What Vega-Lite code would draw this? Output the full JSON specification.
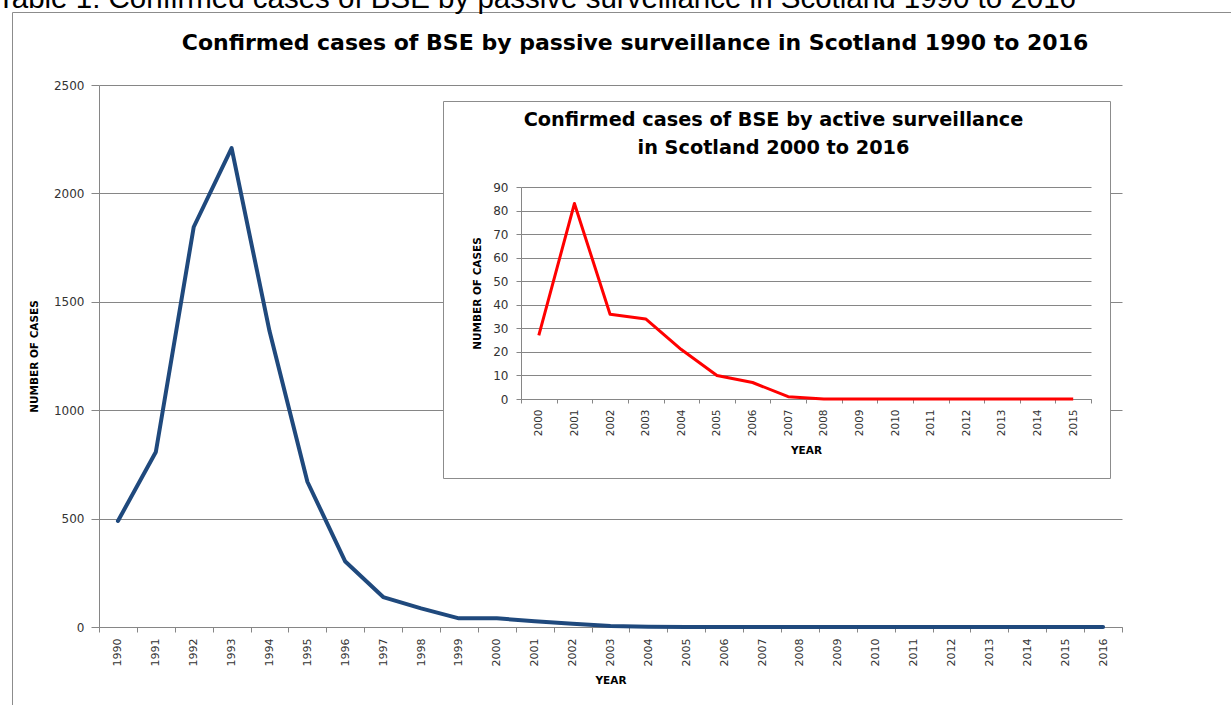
{
  "$schema": "https://vega.github.io/schema/vega-lite/v6.json",
  "background": "white",
  "autosize": {"type": "pad"},
  "padding": {"left": -3, "top": -16, "right": 0, "bottom": 0},
  "title": {
    "text": "Table 1: Confirmed cases of BSE by passive surveillance in Scotland 1990 to 2016",
    "anchor": "start",
    "font": "Liberation Sans",
    "fontSize": 29.5,
    "fontWeight": "normal",
    "color": "black",
    "dx": -15,
    "offset": -2.5
  },
  "bounds": "flush",
  "spacing": 0,
  "hconcat": [
    {
      "width": 344,
      "height": 526,
      "view": {"stroke": null},
      "title": {
        "text": "Confirmed cases of BSE by passive surveillance in Scotland 1990 to 2016",
        "frame": "group",
        "anchor": "middle",
        "dx": 364,
        "offset": -42.5,
        "font": "DejaVu Sans",
        "fontSize": 22,
        "fontWeight": "bold",
        "color": "black"
      },
      "data": {
        "values": [
          {"year": 1990, "cases": 489},
          {"year": 1991, "cases": 807},
          {"year": 1992, "cases": 1845},
          {"year": 1993, "cases": 2209},
          {"year": 1994, "cases": 1365},
          {"year": 1995, "cases": 670},
          {"year": 1996, "cases": 302},
          {"year": 1997, "cases": 138},
          {"year": 1998, "cases": 86},
          {"year": 1999, "cases": 40},
          {"year": 2000, "cases": 40},
          {"year": 2001, "cases": 27},
          {"year": 2002, "cases": 15},
          {"year": 2003, "cases": 5},
          {"year": 2004, "cases": 1},
          {"year": 2005, "cases": 0},
          {"year": 2006, "cases": 0},
          {"year": 2007, "cases": 0},
          {"year": 2008, "cases": 0},
          {"year": 2009, "cases": 0},
          {"year": 2010, "cases": 0},
          {"year": 2011, "cases": 0},
          {"year": 2012, "cases": 0},
          {"year": 2013, "cases": 0},
          {"year": 2014, "cases": 0},
          {"year": 2015, "cases": 0},
          {"year": 2016, "cases": 0}
        ]
      },
      "layer": [
        {
          "mark": {"type": "line", "color": "#1F497D", "strokeWidth": 4, "strokeJoin": "round", "strokeCap": "round"},
          "encoding": {
            "x": {
              "field": "year",
              "type": "ordinal",
              "scale": {"type": "band", "paddingInner": 0, "paddingOuter": 0, "range": [0, 1023]},
              "axis": {
                "orient": "bottom",
                "title": "YEAR",
                "labelAngle": 270,
                "labelAlign": "right",
                "labelBaseline": "middle",
                "tickBand": "extent",
                "tickSize": 5,
                "labelPadding": 6,
                "labelFontSize": 11,
                "titleFontSize": 10.5,
                "titleFontWeight": "bold",
                "titlePadding": 10,
                "grid": false
              }
            },
            "y": {
              "field": "cases",
              "type": "quantitative",
              "scale": {"domain": [0, 2500], "range": [526, -16], "nice": false, "zero": true},
              "axis": {
                "orient": "left",
                "title": "NUMBER OF CASES",
                "values": [0, 500, 1000, 1500, 2000, 2500],
                "format": "d",
                "grid": true,
                "tickSize": 8,
                "labelPadding": 7,
                "labelFontSize": 12,
                "labelOverlap": false,
                "labelFlush": false,
                "titleFontSize": 10.5,
                "titleFontWeight": "bold",
                "titlePadding": 14
              }
            }
          }
        },
        {
          "mark": {"type": "line", "strokeOpacity": 0},
          "encoding": {
            "x": {
              "field": "year",
              "type": "ordinal",
              "scale": {"type": "band", "paddingInner": 0, "paddingOuter": 0, "range": [-87, 1400]},
              "axis": {
                "orient": "top",
                "offset": 89,
                "title": null,
                "labels": false,
                "ticks": false,
                "grid": false,
                "domain": true,
                "domainColor": "#8C8C8C"
              }
            },
            "y": {
              "field": "cases",
              "type": "quantitative",
              "scale": {"domain": [0, 2500], "range": [700, -89], "nice": false, "zero": true},
              "axis": {
                "orient": "left",
                "offset": 87,
                "title": null,
                "labels": false,
                "ticks": false,
                "grid": false,
                "domain": true,
                "domainColor": "#8C8C8C"
              }
            }
          }
        }
      ],
      "resolve": {
        "scale": {"x": "independent", "y": "independent"},
        "axis": {"x": "independent", "y": "independent"}
      }
    },
    {
      "width": 667,
      "height": 377,
      "view": {"fill": "white", "stroke": "#8C8C8C", "strokeWidth": 1},
      "title": {
        "text": ["Confirmed cases of BSE by active surveillance", "in Scotland 2000 to 2016"],
        "frame": "group",
        "anchor": "middle",
        "dx": -3,
        "offset": -57,
        "lineHeight": 28,
        "font": "DejaVu Sans",
        "fontSize": 19.3,
        "fontWeight": "bold",
        "color": "black"
      },
      "data": {
        "values": [
          {"year": 2000, "cases": 27},
          {"year": 2001, "cases": 83},
          {"year": 2002, "cases": 36},
          {"year": 2003, "cases": 34},
          {"year": 2004, "cases": 21},
          {"year": 2005, "cases": 10},
          {"year": 2006, "cases": 7},
          {"year": 2007, "cases": 1},
          {"year": 2008, "cases": 0},
          {"year": 2009, "cases": 0},
          {"year": 2010, "cases": 0},
          {"year": 2011, "cases": 0},
          {"year": 2012, "cases": 0},
          {"year": 2013, "cases": 0},
          {"year": 2014, "cases": 0},
          {"year": 2015, "cases": 0}
        ]
      },
      "mark": {"type": "line", "color": "#FF0000", "strokeWidth": 3, "strokeJoin": "round"},
      "encoding": {
        "x": {
          "field": "year",
          "type": "ordinal",
          "scale": {"type": "band", "paddingInner": 0, "paddingOuter": 0, "range": [78, 648]},
          "axis": {
            "orient": "bottom",
            "offset": -79,
            "title": "YEAR",
            "labelAngle": 270,
            "labelAlign": "right",
            "labelBaseline": "middle",
            "tickBand": "extent",
            "tickSize": 4,
            "labelPadding": 6,
            "labelFontSize": 10.5,
            "titleFontSize": 10.5,
            "titleFontWeight": "bold",
            "titlePadding": 10,
            "grid": false
          }
        },
        "y": {
          "field": "cases",
          "type": "quantitative",
          "scale": {"domain": [0, 90], "range": [298, 86], "nice": false, "zero": true},
          "axis": {
            "orient": "left",
            "offset": -78,
            "title": "NUMBER OF CASES",
            "values": [0, 10, 20, 30, 40, 50, 60, 70, 80, 90],
            "grid": true,
            "tickSize": 5,
            "labelPadding": 8,
            "labelFontSize": 12,
            "labelOverlap": false,
            "labelFlush": false,
            "titleFontSize": 10.5,
            "titleFontWeight": "bold",
            "titlePadding": 10
          }
        }
      }
    }
  ],
  "config": {
    "axis": {
      "labelFont": "DejaVu Sans",
      "titleFont": "DejaVu Sans",
      "labelColor": "#333333",
      "titleColor": "black",
      "domainColor": "#868686",
      "tickColor": "#868686",
      "gridColor": "#868686",
      "domainWidth": 1,
      "gridWidth": 1
    }
  }
}
